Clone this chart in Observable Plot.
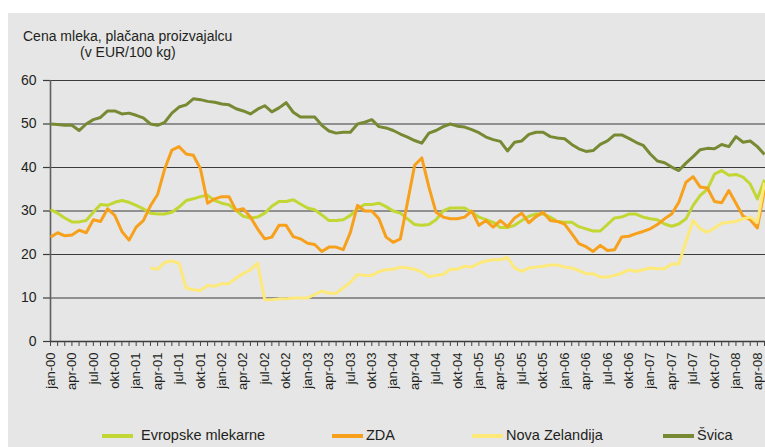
<!DOCTYPE html>
<html>
<head>
<meta charset="utf-8">
<script src="https://cdn.jsdelivr.net/npm/d3@7"></script>
<script src="https://cdn.jsdelivr.net/npm/@observablehq/plot@0.6"></script>
<style>
  html, body { margin: 0; padding: 0; }
  body { width: 765px; height: 447px; overflow: hidden; position: relative; background: #ffffff;
         font-family: "Liberation Sans", Arial, sans-serif; color: #231f20; }
  #panel { position: absolute; left: 8px; top: 13px; right: 0; bottom: 0; background: #e6e6e6; }
  .t { position: absolute; font-size: 14px; line-height: 16px; white-space: nowrap; }
  #chart { position: absolute; left: 0; top: 70px; }
  .lg { position: absolute; font-size: 14.5px; line-height: 16px; white-space: nowrap; }
  .sw { position: absolute; height: 4px; width: 31px; }
</style>
</head>
<body>
<div id="panel"></div>
<div class="t" style="left:23px; top:28px;">Cena mleka, plačana proizvajalcu</div>
<div class="t" style="left:80px; top:44px;">(v EUR/100 kg)</div>
<div id="chart"></div>
<div id="legend"></div>
<script>
// Month index 0 = jan-00, monthly values
const tickLabels = ["jan-00","apr-00","jul-00","okt-00","jan-01","apr-01","jul-01","okt-01",
  "jan-02","apr-02","jul-02","okt-02","jan-03","apr-03","jul-03","okt-03",
  "jan-04","apr-04","jul-04","okt-04","jan-05","apr-05","jul-05","okt-05",
  "jan-06","apr-06","jul-06","okt-06","jan-07","apr-07","jul-07","okt-07",
  "jan-08","apr-08"];
const yTicks = [0, 10, 20, 30, 40, 50, 60];

const evropske = [30.3,29.5,28.4,27.5,27.5,27.8,29.7,31.5,31.3,32.0,32.4,32.0,31.3,30.5,29.5,29.3,29.3,29.7,30.9,32.4,
  32.8,33.3,33.6,32.4,31.8,31.4,30.1,28.8,28.4,28.6,29.5,31.1,32.2,32.2,32.6,31.6,30.7,30.3,29.1,27.8,
  27.8,28.0,29.0,30.5,31.5,31.5,31.8,31.0,30.0,29.5,28.2,26.9,26.7,26.9,28.0,30.0,30.7,30.7,30.7,29.7,
  28.6,28.0,27.4,26.2,26.2,26.7,27.8,28.8,29.3,29.3,28.6,27.6,27.4,27.4,26.4,25.9,25.4,25.4,26.9,28.4,
  28.6,29.3,29.3,28.6,28.2,28.0,27.0,26.5,27.0,28.2,31.3,33.6,35.0,38.5,39.3,38.2,38.4,37.8,36.2,32.8,37.2];

const zda = [24.0,25.0,24.3,24.5,25.6,25.0,28.0,27.6,30.5,29.0,25.3,23.3,26.3,27.8,31.2,33.8,39.7,44.0,44.8,43.1,
  42.8,39.7,31.8,32.8,33.3,33.3,30.1,30.5,28.6,25.9,23.6,24.0,26.7,26.7,24.1,23.6,22.6,22.3,20.7,21.7,
  21.7,21.1,25.1,31.3,30.0,30.0,28.2,24.0,22.8,23.6,32.0,40.5,42.2,35.5,29.7,28.6,28.2,28.2,28.6,30.0,
  26.7,27.8,26.3,27.8,26.4,28.4,29.5,27.3,28.7,29.7,27.8,27.6,27.0,24.8,22.5,21.8,20.7,22.1,20.9,21.1,
  24.0,24.2,24.8,25.3,25.9,26.9,28.2,29.3,32.0,36.6,37.9,35.5,35.3,32.2,31.9,34.7,31.8,28.8,28.0,26.1,35.0];

const nzStart = 14; // first month with data (mar-01)
const novaZelandija = [16.9,16.6,18.2,18.5,18.0,12.3,11.9,11.7,12.9,12.7,13.3,13.3,14.6,15.6,16.5,18.0,
  9.6,9.6,9.8,9.8,10.0,10.0,10.0,10.8,11.6,11.1,11.1,12.3,13.6,15.4,15.2,15.2,16.1,16.5,16.6,17.1,
  16.9,16.6,16.0,14.9,15.2,15.4,16.6,16.6,17.3,17.1,18.0,18.5,18.8,18.8,19.3,16.9,16.1,16.9,17.1,17.3,
  17.6,17.6,17.1,16.9,16.3,15.6,15.6,14.8,14.8,15.2,15.7,16.5,16.1,16.5,16.9,16.7,16.7,17.8,17.8,23.0,
  27.8,25.9,25.1,26.1,27.2,27.4,27.6,28.2,28.6,27.4,36.5];

const svica = [50.0,49.9,49.7,49.7,48.5,50.0,51.0,51.5,53.0,53.0,52.3,52.5,52.0,51.4,50.0,49.7,50.4,52.5,53.9,54.4,
  55.8,55.6,55.2,55.0,54.6,54.4,53.5,53.0,52.3,53.4,54.2,52.8,53.7,54.9,52.7,51.6,51.6,51.6,49.7,48.4,
  47.9,48.1,48.1,50.0,50.4,51.0,49.4,49.1,48.5,47.7,47.0,46.2,45.6,47.9,48.5,49.4,50.0,49.5,49.3,48.7,
  48.0,47.0,46.4,46.0,43.8,45.8,46.1,47.6,48.1,48.1,47.1,46.8,46.6,45.3,44.3,43.7,43.9,45.3,46.1,47.5,
  47.5,46.7,45.8,45.1,43.1,41.5,41.1,40.1,39.3,41.0,42.5,44.1,44.4,44.3,45.3,44.8,47.1,45.8,46.1,44.8,43.0];

const seriesNames = ["Evropske mlekarne", "ZDA", "Nova Zelandija", "Švica"];
const seriesColors = ["#c2d733", "#f7a01c", "#fde97a", "#778a33"];

const toRows = (arr, start = 0) => arr.map((v, k) => ({i: start + k, v}));
const rows = [toRows(evropske), toRows(zda), toRows(novaZelandija, nzStart), toRows(svica)];

const gridColor = "#3b3b3b";
const pxPerMonth = 7.14;
const xMax = (765 - 50) / pxPerMonth;

const chart = Plot.plot({
  width: 765,
  height: 331,
  marginLeft: 50,
  marginRight: 0,
  marginTop: 10,
  marginBottom: 60,
  style: {background: "transparent", fontFamily: "'Liberation Sans', Arial, sans-serif", color: "#231f20", overflow: "visible"},
  x: {type: "linear", domain: [0, xMax], label: null},
  y: {domain: [0, 60], label: null},
  marks: [
    Plot.gridY(yTicks, {stroke: gridColor, strokeOpacity: 1, strokeWidth: 1.2}),
    Plot.axisY(yTicks, {tickSize: 7, tickPadding: 7, stroke: gridColor, strokeWidth: 1.2, fontSize: 14, fill: "#231f20", label: null}),
    Plot.ruleX([0], {stroke: "#5f5f5f", strokeWidth: 1.6}),
    Plot.ruleY([0], {stroke: gridColor, strokeWidth: 1.4}),
    Plot.axisX(d3.range(0, 101), {tickSize: 5, tickFormat: () => "", stroke: "#444", strokeWidth: 1, label: null}),
    Plot.axisX(d3.range(0, 100, 3), {tickSize: 0, tickPadding: 11, tickRotate: -90,
      tickFormat: i => tickLabels[i / 3], fontSize: 13, fill: "#231f20", label: null}),
    ...rows.map((r, k) => Plot.line(r, {x: "i", y: "v", stroke: seriesColors[k], strokeWidth: 3,
      strokeLinejoin: "round", strokeLinecap: "butt", clip: true}))
  ]
});
document.getElementById("chart").appendChild(chart);

// Legend
const legendPos = [{sw: 102, tx: 141}, {sw: 332, tx: 366}, {sw: 472, tx: 506}, {sw: 663, tx: 697}];
const lg = document.getElementById("legend");
seriesNames.forEach((name, k) => {
  const s = document.createElement("div");
  s.className = "sw";
  s.style.left = legendPos[k].sw + "px";
  s.style.top = "434px";
  s.style.background = seriesColors[k];
  lg.appendChild(s);
  const t = document.createElement("div");
  t.className = "lg";
  t.style.left = legendPos[k].tx + "px";
  t.style.top = "427px";
  t.textContent = name;
  lg.appendChild(t);
});
</script>
</body>
</html>
